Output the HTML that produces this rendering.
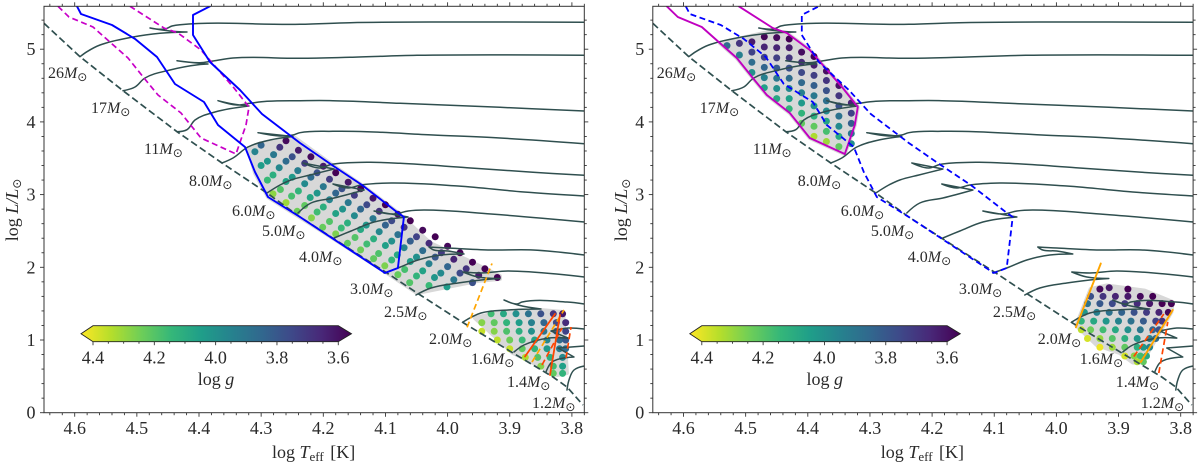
<!DOCTYPE html>
<html lang="en">
<head>
<meta charset="utf-8">
<title>HR diagrams with log g colour scale</title>
<style>
html,body{margin:0;padding:0;background:#fff;width:1200px;height:465px;overflow:hidden}
svg{display:block}
text{font-family:"Liberation Serif","DejaVu Serif",serif;fill:#2a2a2a}
.sun{font-family:"DejaVu Sans",sans-serif}
</style>
</head>
<body>
<svg id="chart" xmlns="http://www.w3.org/2000/svg" width="1200" height="465" viewBox="0 0 1200 465">
<defs>
<linearGradient id="cbarGrad" x1="0" x2="1" y1="0" y2="0"></linearGradient>
<clipPath id="axesClip"><rect x="44" y="6.3" width="540.3" height="406.4"></rect></clipPath>
</defs>
</svg>
<script>
// Axis tick values and labels
const xTickLabels = ["4.6","4.5","4.4","4.3","4.2","4.1","4.0","3.9","3.8"];
const yTickLabels = ["0","1","2","3","4","5"];
const cbarTickLabels = ["4.4","4.2","4.0","3.8","3.6"];
const massLabels = ["26","17","11","8.0","6.0","5.0","4.0","3.0","2.5","2.0","1.6","1.4","1.2"];
const massLabelT = [4.643,4.5738,4.4885,4.4161,4.3469,4.2986,4.2391,4.157,4.1023,4.03,3.9624,3.9045,3.8642];
const massLabelL = [4.604,4.122,3.558,3.118,2.705,2.43,2.073,1.633,1.316,0.945,0.67,0.354,0.065];

// Zero-age main sequence [logT, logL]
const zamsLine = [[4.6494,5.356],[4.5915,4.897],[4.5223,4.429],[4.4354,3.865],[4.363,3.435],[4.2906,3.022],[4.2375,2.692],[4.0975,1.922],[4.049,1.647],[3.9767,1.248],[3.8948,0.821],[3.8304,0.491],[3.8079,0.354],[3.7821,0.106]];

// Evolutionary tracks [logT, logL]
const track26 = [[4.5915,4.897],[4.5802,4.966],[4.5593,5.058],[4.5062,5.168],[4.4628,5.219],[4.4193,5.237],[4.4466,5.25],[4.4788,5.292],[4.4547,5.278],[4.4434,5.319],[4.4306,5.337],[4.2375,5.342],[4.157,5.364],[3.9961,5.374],[3.78,5.37]];
const track17 = [[4.5223,4.429],[4.503,4.48],[4.4869,4.604],[4.4467,4.714],[4.3984,4.79],[4.3855,4.796],[4.4032,4.81],[4.4354,4.842],[4.3984,4.814],[4.3775,4.838],[4.3453,4.879],[4.2375,4.875],[4.157,4.889],[4.0492,4.916],[3.78,4.916]];
const track11 = [[4.4354,3.865],[4.4193,3.893],[4.4064,4.026],[4.3743,4.136],[4.3196,4.219],[4.3453,4.246],[4.3694,4.292],[4.3389,4.232],[4.318,4.256],[4.2906,4.283],[4.2375,4.292],[4.1844,4.292],[4.0766,4.256],[3.9157,4.201],[3.78,4.15]];
const track8 = [[4.363,3.435],[4.3453,3.503],[4.3211,3.655],[4.2857,3.751],[4.2487,3.799],[4.305,3.851],[4.2696,3.806],[4.2487,3.82],[4.2375,3.851],[4.1844,3.871],[4.1296,3.865],[4.0234,3.82],[3.9157,3.779],[3.78,3.7]];
const track6 = [[4.2906,3.022],[4.2696,3.132],[4.2519,3.201],[4.2213,3.27],[4.1827,3.352],[4.2326,3.435],[4.2053,3.366],[4.1876,3.414],[4.1296,3.444],[4.0766,3.431],[3.9688,3.37],[3.8626,3.307],[3.78,3.265]];
const track5 = [[4.2407,2.747],[4.2198,2.884],[4.1827,2.953],[4.1344,3.063],[4.1844,3.146],[4.1602,3.091],[4.1393,3.132],[4.0911,3.159],[3.9833,3.118],[3.8771,3.036],[3.78,2.981]];
const track4 = [[4.1827,2.403],[4.1553,2.499],[4.1183,2.623],[4.0636,2.692],[4.1183,2.774],[4.0861,2.733],[4.0636,2.774],[4.0379,2.788],[3.9301,2.733],[3.78,2.623]];
const track3 = [[4.1024,1.922],[4.0799,1.99],[4.0477,2.1],[4.0106,2.169],[3.9736,2.183],[3.9994,2.224],[4.0219,2.238],[4.0299,2.279],[3.9994,2.265],[3.9301,2.238],[3.8626,2.238],[3.78,2.169]];
const track25 = [[4.0508,1.619],[4.0267,1.715],[3.9833,1.784],[3.9463,1.825],[3.9157,1.846],[3.9511,1.867],[3.9752,1.935],[3.9463,1.922],[3.9028,1.949],[3.78,1.867]];
const track2 = [[3.9752,1.248],[3.9463,1.371],[3.9028,1.413],[3.8497,1.426],[3.8867,1.481],[3.9093,1.55],[3.8883,1.495],[3.8803,1.523],[3.8079,1.523],[3.78,1.495]];
const track16 = [[3.8932,0.835],[3.8771,0.931],[3.8385,1.026],[3.8063,1.026],[3.8336,1.124],[3.8063,1.165],[3.78,1.151]];
const track14 = [[3.8417,0.56],[3.832,0.697],[3.7966,0.766],[3.8224,0.89],[3.78,0.917]];
const track12 = [[3.8079,0.312],[3.8047,0.45],[3.7966,0.587],[3.78,0.642]];

// Boundary lines [logT, logL]
const magentaBoundary = [[4.6269,5.59],[4.6092,5.443],[4.5706,5.305],[4.5416,5.085],[4.5142,4.879],[4.4885,4.604],[4.466,4.37],[4.429,4.122],[4.3968,3.779],[4.3405,3.559],[4.3244,3.957],[4.3196,4.205],[4.3437,4.466],[4.3968,4.989],[4.4338,5.223],[4.4563,5.292],[4.511,5.59]];
const blueBoundary = [[4.5963,5.59],[4.5899,5.484],[4.54,5.333],[4.503,5.141],[4.4676,4.893],[4.4386,4.521],[4.392,4.274],[4.3694,3.957],[4.326,3.655],[4.3099,3.311],[4.289,2.967],[4.2375,2.692],[4.1008,1.922],[4.0799,1.99],[4.0703,2.692],[4.0815,2.761],[4.1378,3.132],[4.1861,3.407],[4.2375,3.71],[4.2987,4.109],[4.334,4.439],[4.3823,4.824],[4.4097,5.195],[4.4097,5.47],[4.3823,5.59]];
const orangeHot = [[3.9686,1.175],[3.9286,2.052]];
const orangeCool = [[3.8642,0.697],[3.8127,1.412]];
const redA = [[3.8755,0.773],[3.8272,1.358]];
const redB = [[3.8352,0.519],[3.8191,1.344]];
const redC = [[3.8481,0.656],[3.816,1.165]];
const redD = [[3.8095,0.752],[3.8015,1.179]];
const redBRight = [[3.8353,0.546],[3.8208,1.247]];

// Sample outlines [logT, logL]
const hullA = [[4.321,3.64],[4.249,3.8],[4.186,3.41],[4.138,3.13],[4.0815,2.76],[4.0283,2.334],[3.9688,2.1],[3.9157,1.88],[3.9157,1.84],[3.9527,1.811],[4.001,1.729],[4.0492,1.647],[4.0975,1.922],[4.2053,2.513],[4.289,2.967],[4.3099,3.297]];
const hullB = [[3.956,1.303],[3.916,1.385],[3.851,1.413],[3.814,1.385],[3.808,0.546],[3.824,0.519],[3.862,0.684],[3.895,0.821]];
const hullC = [[4.5416,5.085],[4.4563,5.25],[4.4338,5.223],[4.3968,4.989],[4.3437,4.466],[4.3196,4.205],[4.3244,3.957],[4.3405,3.559],[4.3968,3.779],[4.429,4.122],[4.466,4.37],[4.4885,4.604],[4.5142,4.879]];
const hullD = [[3.968,1.2],[3.945,1.7],[3.919,1.75],[3.858,1.68],[3.813,1.523],[3.815,1.385],[3.862,0.69],[3.877,0.69],[3.898,0.821],[3.935,0.93]];

// Stars [logT, logL, logg]
const starsA = [
[4.281,3.01,4.26],[4.26,2.89,4.28],[4.242,2.77,4.22],[4.219,2.68,4.25],[4.201,2.55,4.21],[4.18,2.46,4.24],[4.161,2.33,4.2],[4.14,2.24,4.22],[4.119,2.12,4.2],[4.101,2.02,4.24],[4.08,1.9,4.21],[4.061,1.79,4.18],
[4.29,3.2,4.14],[4.269,3.07,4.18],[4.251,2.98,4.16],[4.23,2.85,4.2],[4.21,2.76,4.15],[4.19,2.63,4.18],[4.171,2.54,4.14],[4.149,2.41,4.18],[4.13,2.32,4.15],[4.111,2.19,4.17],[4.09,2.1,4.13],[4.069,1.97,4.16],[4.05,1.88,4.12],[4.03,1.75,4.14],
[4.3,3.4,4.04],[4.281,3.27,4.1],[4.26,3.18,4.06],[4.24,3.05,4.12],[4.221,2.96,4.07],[4.2,2.83,4.1],[4.18,2.74,4.06],[4.161,2.61,4.1],[4.14,2.52,4.08],[4.119,2.39,4.1],[4.1,2.3,4.05],[4.081,2.17,4.08],[4.06,2.08,4.04],[4.04,1.95,4.06],[4.021,1.86,4.02],[4.001,1.73,4.04],
[4.31,3.59,3.96],[4.29,3.46,4.02],[4.271,3.37,3.97],[4.25,3.24,4.03],[4.23,3.15,3.98],[4.21,3.02,4.02],[4.19,2.93,3.96],[4.169,2.8,4.01],[4.15,2.71,3.98],[4.131,2.58,4.02],[4.11,2.49,3.97],[4.09,2.36,4.0],[4.07,2.27,3.96],[4.05,2.14,4.0],[4.03,2.05,3.95],[4.011,1.92,3.98],[3.99,1.83,3.92],
[4.3,3.68,3.86],[4.28,3.55,3.92],[4.26,3.46,3.88],[4.241,3.33,3.94],[4.22,3.24,3.88],[4.2,3.11,3.92],[4.18,3.02,3.86],[4.16,2.89,3.92],[4.14,2.8,3.87],[4.12,2.67,3.92],[4.1,2.58,3.85],[4.08,2.45,3.9],[4.06,2.36,3.84],[4.04,2.23,3.88],[4.02,2.14,3.82],[4.0,2.01,3.86],[3.98,1.92,3.78],[3.96,1.79,3.8],
[4.27,3.65,3.72],[4.25,3.52,3.8],[4.23,3.43,3.74],[4.21,3.3,3.8],[4.19,3.21,3.74],[4.17,3.08,3.8],[4.15,2.99,3.74],[4.13,2.86,3.78],[4.11,2.77,3.72],[4.09,2.64,3.78],[4.07,2.55,3.72],[4.05,2.42,3.76],[4.03,2.33,3.7],[4.01,2.2,3.74],[3.99,2.11,3.68],[3.97,1.98,3.72],[3.95,1.89,3.66],
[4.26,3.74,3.62],[4.24,3.61,3.66],[4.22,3.52,3.62],[4.2,3.39,3.66],[4.18,3.3,3.6],[4.16,3.17,3.65],[4.14,3.08,3.6],[4.12,2.95,3.65],[4.1,2.86,3.6],[4.08,2.73,3.64],[4.06,2.64,3.6],[4.04,2.51,3.62],[4.02,2.42,3.6],[4.0,2.29,3.62],[3.98,2.2,3.6],[3.96,2.07,3.6],[3.94,1.98,3.6],[3.92,1.86,3.6]
];
const starsB = [
[3.93,1.36,4.15],[3.91,1.36,4.08],[3.89,1.36,4.0],[3.87,1.36,3.9],[3.85,1.36,3.8],[3.83,1.36,3.72],[3.815,1.36,3.65],
[3.945,1.24,4.25],[3.925,1.24,4.2],[3.905,1.24,4.12],[3.885,1.24,4.04],[3.865,1.24,3.95],[3.845,1.24,3.86],[3.825,1.24,3.78],[3.81,1.24,3.7],
[3.945,1.12,4.33],[3.925,1.12,4.25],[3.905,1.12,4.17],[3.885,1.12,4.1],[3.865,1.12,4.0],[3.845,1.12,3.92],[3.825,1.12,3.84],[3.81,1.12,3.76],
[3.92,1.0,4.32],[3.9,1.0,4.22],[3.88,1.0,4.14],[3.86,1.0,4.06],[3.84,1.0,3.97],[3.82,1.0,3.88],[3.81,1.0,3.82],
[3.9,0.88,4.33],[3.88,0.88,4.2],[3.86,0.88,4.12],[3.84,0.88,4.03],[3.82,0.88,3.94],[3.81,0.88,3.88],
[3.875,0.76,4.3],[3.855,0.76,4.18],[3.835,0.76,4.1],[3.815,0.76,3.98],
[3.85,0.64,4.25],[3.83,0.64,4.15],[3.815,0.64,4.05],
[3.83,0.54,4.2],[3.815,0.54,4.12]
];
const starsC = [
[4.53,5.05,3.88],[4.51,4.92,3.95],[4.51,5.08,3.72],
[4.49,4.68,4.0],[4.49,4.82,3.88],[4.49,4.96,3.76],[4.49,5.1,3.66],
[4.47,4.47,4.05],[4.47,4.61,3.95],[4.47,4.75,3.86],[4.47,4.89,3.76],[4.47,5.03,3.68],[4.47,5.17,3.61],
[4.45,4.32,4.08],[4.45,4.46,4.0],[4.45,4.6,3.92],[4.45,4.74,3.83],[4.45,4.88,3.75],[4.45,5.02,3.68],[4.45,5.16,3.62],
[4.43,4.18,4.12],[4.43,4.32,4.05],[4.43,4.46,3.97],[4.43,4.6,3.88],[4.43,4.74,3.8],[4.43,4.88,3.72],[4.43,5.02,3.66],[4.43,5.14,3.6],
[4.41,3.98,4.2],[4.41,4.12,4.12],[4.41,4.26,4.03],[4.41,4.4,3.95],[4.41,4.54,3.87],[4.41,4.68,3.78],[4.41,4.82,3.7],[4.41,4.96,3.63],
[4.39,3.8,4.3],[4.39,3.94,4.2],[4.39,4.08,4.1],[4.39,4.22,4.0],[4.39,4.36,3.92],[4.39,4.5,3.84],[4.39,4.64,3.75],[4.39,4.78,3.67],[4.39,4.9,3.6],
[4.37,3.73,4.28],[4.37,3.87,4.16],[4.37,4.01,4.07],[4.37,4.15,3.98],[4.37,4.29,3.89],[4.37,4.43,3.8],[4.37,4.57,3.72],[4.37,4.7,3.63],
[4.35,3.66,4.2],[4.35,3.8,4.08],[4.35,3.94,3.98],[4.35,4.08,3.9],[4.35,4.22,3.8],[4.35,4.36,3.72],[4.35,4.5,3.64],
[4.33,3.7,4.0],[4.33,3.84,3.92],[4.33,3.98,3.84],[4.33,4.12,3.76],[4.33,4.26,3.68]
];
const starsD = [
[3.93,1.7,3.62],[3.915,1.72,3.65],[3.885,1.7,3.6],
[3.945,1.6,3.8],[3.925,1.6,3.72],[3.905,1.6,3.68],[3.885,1.6,3.65],[3.865,1.6,3.62],[3.845,1.6,3.6],
[3.95,1.5,3.9],[3.93,1.5,3.82],[3.91,1.5,3.78],[3.89,1.5,3.74],[3.87,1.5,3.7],[3.85,1.5,3.65],[3.83,1.5,3.6],[3.815,1.5,3.6],
[3.955,1.38,4.02],[3.935,1.38,3.95],[3.915,1.38,3.9],[3.895,1.38,3.85],[3.875,1.38,3.8],[3.855,1.38,3.74],[3.835,1.38,3.68],[3.82,1.38,3.62],
[3.96,1.26,4.12],[3.94,1.26,4.08],[3.92,1.26,4.02],[3.9,1.26,3.96],[3.88,1.26,3.9],[3.86,1.26,3.83],[3.84,1.26,3.76],[3.83,1.26,3.72],
[3.96,1.14,4.32],[3.945,1.14,4.22],[3.925,1.14,4.15],[3.905,1.14,4.08],[3.885,1.14,4.0],[3.865,1.14,3.92],[3.845,1.14,3.86],[3.835,1.14,3.8],
[3.95,1.02,4.35],[3.93,1.02,4.27],[3.91,1.02,4.18],[3.89,1.02,4.1],[3.87,1.02,4.02],[3.85,1.02,3.95],[3.84,1.02,3.88],
[3.93,0.9,4.38],[3.91,0.9,4.28],[3.89,0.9,4.2],[3.87,0.9,4.1],[3.86,0.9,4.03],[3.85,0.9,3.96],
[3.89,0.78,4.35],[3.875,0.78,4.25],[3.865,0.78,4.15],[3.855,0.78,4.08],
[3.87,0.7,4.3],[3.86,0.7,4.2]
];

// Viridis colour stops, purple to yellow
const viridis = ["#440154","#482878","#3e4989","#31688e","#26828e","#1f9e89","#35b779","#6ece58","#b5de2b","#fde725"];

const SVGNS = "http://www.w3.org/2000/svg";
const svg = document.getElementById("chart");
const xScale = t => 74.7 + (4.6 - t) * 621.5;
const yScale = l => 412.7 - l * 72.7;
const cbarScale = g => 93 + (4.4 - g) * 306.6;
const pathOf = pts => pts.map(p => xScale(p[0]).toFixed(1) + "," + yScale(p[1]).toFixed(1)).join(" ");

// Smooth curve through data points, keeping sharp cusps at track hooks
function smoothPath(pts){
  const p = pts.map(q => [xScale(q[0]), yScale(q[1])]);
  const tan = p.map((q, i) => {
    if (i === 0 || i === p.length - 1) return [0, 0];
    const a = [q[0] - p[i-1][0], q[1] - p[i-1][1]];
    const b = [p[i+1][0] - q[0], p[i+1][1] - q[1]];
    const la = Math.hypot(a[0], a[1]), lb = Math.hypot(b[0], b[1]);
    if ((a[0]*b[0] + a[1]*b[1]) / (la * lb) < 0.2) return [0, 0];
    const d = [a[0]/la + b[0]/lb, a[1]/la + b[1]/lb];
    const ld = Math.hypot(d[0], d[1]);
    return [d[0]/ld, d[1]/ld];
  });
  let s = "M" + p[0][0].toFixed(1) + " " + p[0][1].toFixed(1);
  for (let i = 0; i < p.length - 1; i++) {
    const l = Math.hypot(p[i+1][0] - p[i][0], p[i+1][1] - p[i][1]) * 0.36;
    s += "C" + (p[i][0] + tan[i][0]*l).toFixed(1) + " " + (p[i][1] + tan[i][1]*l).toFixed(1) + " "
      + (p[i+1][0] - tan[i+1][0]*l).toFixed(1) + " " + (p[i+1][1] - tan[i+1][1]*l).toFixed(1) + " "
      + p[i+1][0].toFixed(1) + " " + p[i+1][1].toFixed(1);
  }
  return s;
}

function hexToRgb(h){return [1,3,5].map(i => parseInt(h.substr(i,2),16));}
function colorOf(g){
  const t = Math.max(0, Math.min(1, (g - 3.6) / 0.8)) * (viridis.length - 1);
  const i = Math.min(viridis.length - 2, Math.floor(t));
  const a = hexToRgb(viridis[i]), b = hexToRgb(viridis[i + 1]), f = t - i;
  return "rgb(" + a.map((v, k) => Math.round(v + (b[k] - v) * f)).join(",") + ")";
}
function make(tag, attrs, parent){
  const e = document.createElementNS(SVGNS, tag);
  for (const k in attrs) e.setAttribute(k, attrs[k]);
  parent.appendChild(e);
  return e;
}
function addSpan(parent, txt, attrs){
  const s = make("tspan", attrs || {}, parent);
  s.textContent = txt;
  return s;
}

viridis.slice().reverse().forEach((c, i) => {
  const stop = make("stop", {offset: i / (viridis.length - 1), "stop-color": c}, document.getElementById("cbarGrad"));
  
  
});

function drawLine(g, pts, color, width, dash, name){
  const line = make("polyline", {points: pathOf(pts), fill: "none", stroke: color, "stroke-width": width, "stroke-linejoin": "round", "stroke-linecap": dash ? "butt" : "round"}, g);
  if (dash) line.setAttribute("stroke-dasharray", dash);
  
  
}
function drawTrack(g, pts){
  const track = make("path", {d: smoothPath(pts), fill: "none", stroke: "#2f4f4f", "stroke-width": 1.5, "stroke-linejoin": "round", "stroke-linecap": "round"}, g);
  
  
}
function drawCluster(g, hull, stars, name){
  const poly = make("polygon", {points: pathOf(hull), fill: "#d8d8d8", stroke: "#d8d8d8", "stroke-width": 4, "stroke-linejoin": "round"}, g);
  
  
  stars.forEach(s => {
    const c = make("circle", {cx: xScale(s[0]).toFixed(1), cy: yScale(s[1]).toFixed(1), r: 3.5, fill: colorOf(s[2])}, g);
    
    
  });
}
function drawText(g, x, y, txt, anchor, name){
  const t = make("text", {x: x, y: y, "font-size": 18, "text-anchor": anchor}, g);
  t.textContent = txt;
  
  
  return t;
}
function drawTick(g, x1, y1, x2, y2, name){
  const t = make("line", {x1: x1, y1: y1, x2: x2, y2: y2, stroke: "#333", "stroke-width": 0.9}, g);
  
  
}

function drawPanel(offset, name, drawMarks){
  const panel = make("g", {transform: "translate(" + offset + ",0)"}, svg);
  
  

  const plot = make("g", {"clip-path": "url(#axesClip)"}, panel);
  
  
  drawMarks(plot);

  // Axes frame
  const frame = make("rect", {x: 44, y: 6.3, width: 540.3, height: 406.4, fill: "none", stroke: "#333", "stroke-width": 1}, panel);
  
  

  // X ticks
  for (let i = 0; i <= 43; i++) {
    const t = 4.64 - i * 0.02;
    const major = i % 5 === 2;
    const len = major ? 4 : 2.5;
    drawTick(panel, xScale(t), 412.7, xScale(t), 412.7 + len, "x-tick");
    drawTick(panel, xScale(t), 6.3, xScale(t), 6.3 - len, "x-tick-top");
  }
  // Y ticks
  for (let i = 0; i <= 27; i++) {
    const l = i * 0.2;
    const major = i % 5 === 0;
    const len = major ? 4 : 2.5;
    drawTick(panel, 44, yScale(l), 44 - len, yScale(l), "y-tick");
    drawTick(panel, 584.3, yScale(l), 584.3 + len, yScale(l), "y-tick-right");
  }
  xTickLabels.forEach(s => drawText(panel, xScale(parseFloat(s)), 434, s, "middle", "x-tick-label"));
  yTickLabels.forEach(s => drawText(panel, 35.5, yScale(parseFloat(s)) + 6, s, "end", "y-tick-label"));

  // Axis titles
  const xt = make("text", {x: 272, y: 458, "font-size": 18}, panel);
  
  
  addSpan(xt, "log ");
  addSpan(xt, "T", {"font-style": "italic"});
  addSpan(xt, "eff", {"font-size": 13, dy: 3});
  addSpan(xt, " [K]", {dy: -3, dx: 2});

  const yt = make("text", {x: 0, y: 0, "font-size": 18, "text-anchor": "middle", transform: "translate(18,210) rotate(-90)"}, panel);
  
  
  addSpan(yt, "log ");
  addSpan(yt, "L/L", {"font-style": "italic"});
  addSpan(yt, "\u2299", {"font-size": 12, dy: 3, class: "sun"});

  // Mass labels
  massLabels.forEach((m, i) => {
    const lab = make("text", {x: xScale(massLabelT[i]), y: yScale(massLabelL[i]), "font-size": 16}, panel);
    
    
    addSpan(lab, m);
    addSpan(lab, "M", {"font-style": "italic"});
    addSpan(lab, "\u2299", {"font-size": 12, dy: 3, class: "sun"});
  });

  // Colorbar
  const cb = make("g", {}, panel);
  
  
  const bar = make("polygon", {points: "81,333.7 93,325.7 338.3,325.7 351.5,333.7 338.3,341.7 93,341.7", fill: "url(#cbarGrad)", stroke: "#222", "stroke-width": 0.9}, cb);
  
  
  for (let i = 0; i <= 16; i++) {
    const g = 4.4 - i * 0.05;
    drawTick(cb, cbarScale(g), 341.7, cbarScale(g), 341.7 + (i % 4 === 0 ? 3.5 : 2), "colorbar-tick");
  }
  cbarTickLabels.forEach(s => drawText(cb, cbarScale(parseFloat(s)), 363.5, s, "middle", "colorbar-tick-label"));
  const cbt = make("text", {x: 216, y: 385, "font-size": 18, "text-anchor": "middle"}, cb);
  
  
  addSpan(cbt, "log ");
  addSpan(cbt, "g", {"font-style": "italic"});
}

function drawTracks(g){
  const all = [track26, track17, track11, track8, track6, track5, track4, track3, track25, track2, track16, track14, track12];
  all.forEach(t => drawTrack(g, t));
  drawLine(g, zamsLine, "#2f4f4f", 1.7, "7 3.5", "zams-line");
}

drawPanel(0, "left-panel", g => {
  drawCluster(g, hullA, starsA, "upper-sample");
  drawCluster(g, hullB, starsB, "lower-sample");
  drawTracks(g);
  drawLine(g, magentaBoundary, "#c800c8", 1.7, "6 3.5", "magenta-dashed-boundary");
  drawLine(g, blueBoundary, "#0000ff", 1.9, null, "blue-solid-boundary");
  drawLine(g, orangeHot, "#ffa500", 1.7, "6 3.5", "orange-dashed-hot-edge");
  drawLine(g, orangeCool, "#ffa500", 1.7, "6 3.5", "orange-dashed-cool-edge");
  drawLine(g, redA, "#ff4500", 1.8, null, "red-solid-edge-a");
  drawLine(g, redB, "#ff4500", 1.8, null, "red-solid-edge-b");
  drawLine(g, redC, "#ff4500", 1.7, "6 3.5", "red-dashed-edge-c");
  drawLine(g, redD, "#ff4500", 1.7, "6 3.5", "red-dashed-edge-d");
});

drawPanel(608.8, "right-panel", g => {
  drawCluster(g, hullC, starsC, "upper-sample");
  drawCluster(g, hullD, starsD, "lower-sample");
  drawTracks(g);
  drawLine(g, magentaBoundary, "#c000c0", 1.9, null, "magenta-solid-boundary");
  drawLine(g, blueBoundary, "#0000ff", 1.8, "6 3.5", "blue-dashed-boundary");
  drawLine(g, orangeHot, "#ffa500", 1.9, null, "orange-solid-hot-edge");
  drawLine(g, orangeCool, "#ffa500", 1.9, null, "orange-solid-cool-edge");
  drawLine(g, redA, "#ff4500", 1.7, "6 3.5", "red-dashed-edge-a");
  drawLine(g, redBRight, "#ff4500", 1.7, "6 3.5", "red-dashed-edge-b");
});
</script>
</body>
</html>
